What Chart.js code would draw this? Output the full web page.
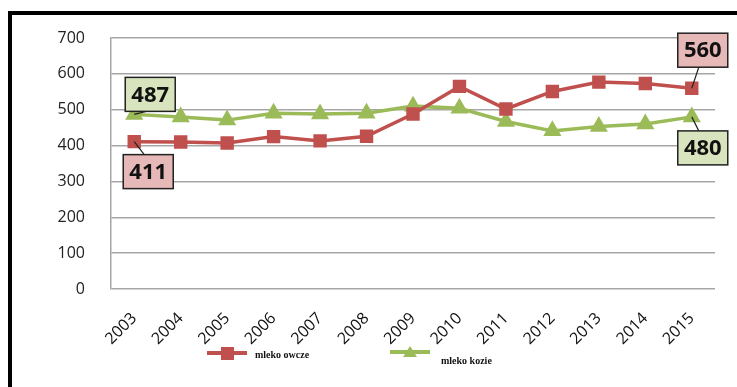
<!DOCTYPE html>
<html>
<head>
<meta charset="utf-8">
<script src="https://cdn.jsdelivr.net/npm/chart.js@4/dist/chart.umd.min.js"></script>
<style>
  body { margin: 0; background: #fff; }
  #wrap { position: relative; width: 737px; height: 387px; }
  #frame {
    position: absolute; left: 8px; top: 11px; right: 0; bottom: 0;
    border-top: 4px solid #000; border-left: 4px solid #000;
    pointer-events: none;
  }
</style>
</head>
<body>
<div id="wrap">
  <canvas id="milkChart" width="737" height="387"></canvas>
  <div id="frame"></div>
</div>
<script>
// data
const years = ['2003', '2004', '2005', '2006', '2007', '2008', '2009', '2010', '2011', '2012', '2013', '2014', '2015'];
const sheepMilk = [411, 410, 407, 425, 413, 426, 488, 565, 502, 551, 577, 573, 560];
const goatMilk = [487, 480, 471, 490, 488, 490, 510, 504, 467, 441, 453, 460, 480];
const yTicks = [0, 100, 200, 300, 400, 500, 600, 700];

const RED = '#c0504d';
const GREEN = '#9bbb59';

// boxed value labels at first and last point
const boxLabels = [
    { ds: 0, i: 0, dx: 14, dy: 30, fill: '#e6b9b8' },
    { ds: 1, i: 0, dx: 16, dy: -20, fill: '#d7e4bd' },
    { ds: 0, i: 12, dx: 11, dy: -38, fill: '#e6b9b8' },
    { ds: 1, i: 12, dx: 11, dy: 31, fill: '#d7e4bd' }
];

const boxLabelPlugin = {
    id: 'boxLabels',
    afterDatasetsDraw(chart) {
        const ctx = chart.ctx;
        ctx.save();
        boxLabels.forEach(b => {
            const pt = chart.getDatasetMeta(b.ds).data[b.i];
            const val = chart.data.datasets[b.ds].data[b.i];
            const cx = pt.x + b.dx, cy = pt.y + b.dy;
            const w = 50, h = 34;
            // leader line
            ctx.strokeStyle = '#222';
            ctx.lineWidth = 1.2;
            ctx.beginPath();
            ctx.moveTo(pt.x, pt.y);
            ctx.lineTo(cx - 4, b.dy > 0 ? cy - h / 2 : cy + h / 2);
            ctx.stroke();
            ctx.fillStyle = b.fill;
            ctx.fillRect(cx - w / 2, cy - h / 2, w, h);
            ctx.lineWidth = 1.5;
            ctx.strokeRect(cx - w / 2, cy - h / 2, w, h);
            ctx.fillStyle = '#111';
            ctx.font = 'bold 22px "Open Sans", sans-serif';
            ctx.textAlign = 'center';
            ctx.textBaseline = 'middle';
            ctx.fillText(String(val), cx, cy + 1);
        });
        ctx.restore();
    }
};

// legend below the axis, spread out like the original
const legendPlugin = {
    id: 'bottomLegend',
    afterDraw(chart) {
        const ctx = chart.ctx;
        ctx.save();
        // mleko owcze
        ctx.strokeStyle = RED;
        ctx.lineWidth = 4;
        ctx.beginPath(); ctx.moveTo(207, 353); ctx.lineTo(247, 353); ctx.stroke();
        ctx.fillStyle = RED;
        ctx.fillRect(221, 347, 13, 13);
        // mleko kozie
        ctx.strokeStyle = GREEN;
        ctx.beginPath(); ctx.moveTo(390, 352); ctx.lineTo(430, 352); ctx.stroke();
        ctx.fillStyle = GREEN;
        ctx.beginPath(); ctx.moveTo(410, 346); ctx.lineTo(417, 357); ctx.lineTo(403, 357); ctx.closePath(); ctx.fill();

        ctx.fillStyle = '#111';
        ctx.font = 'bold 10px "Liberation Serif", serif';
        ctx.textBaseline = 'middle';
        ctx.fillText('mleko owcze', 255, 355);
        ctx.fillText('mleko kozie', 441, 361);
        ctx.restore();
    }
};

const ctx = document.getElementById('milkChart').getContext('2d');
new Chart(ctx, {
    type: 'line',
    data: {
        labels: years,
        datasets: [{
            label: 'mleko owcze',
            data: sheepMilk,
            borderColor: RED,
            backgroundColor: RED,
            borderWidth: 3.5,
            pointStyle: 'rect',
            pointRadius: 7,
            pointHoverRadius: 7,
            tension: 0
        }, {
            label: 'mleko kozie',
            data: goatMilk,
            borderColor: GREEN,
            backgroundColor: GREEN,
            borderWidth: 3.5,
            pointStyle: 'triangle',
            pointRadius: 7,
            pointHoverRadius: 7,
            tension: 0
        }]
    },
    options: {
        responsive: false,
        animation: false,
        layout: { padding: { left: 20, right: 22, top: 38, bottom: 0 } },
        plugins: {
            legend: { display: false },
            tooltip: { enabled: false }
        },
        scales: {
            x: {
                offset: true,
                grid: { display: false, drawTicks: false },
                border: { display: false },
                ticks: {
                    color: '#111',
                    font: { family: '"Open Sans", sans-serif', size: 16 },
                    minRotation: 45,
                    maxRotation: 45,
                    padding: 20
                },
                afterFit(scale) { scale.height = 98; }
            },
            y: {
                min: 0,
                max: 700,
                afterBuildTicks(scale) { scale.ticks = yTicks.map(v => ({ value: v })); },
                grid: { color: '#a6a6a6', lineWidth: 1.5, drawTicks: false },
                border: { display: true, color: '#a6a6a6', width: 1.5 },
                ticks: {
                    color: '#222',
                    font: { family: '"Open Sans", sans-serif', size: 16 },
                    padding: 26
                },
                afterFit(scale) { scale.width = 91; }
            }
        }
    },
    plugins: [boxLabelPlugin, legendPlugin]
});
</script>
</body>
</html>
